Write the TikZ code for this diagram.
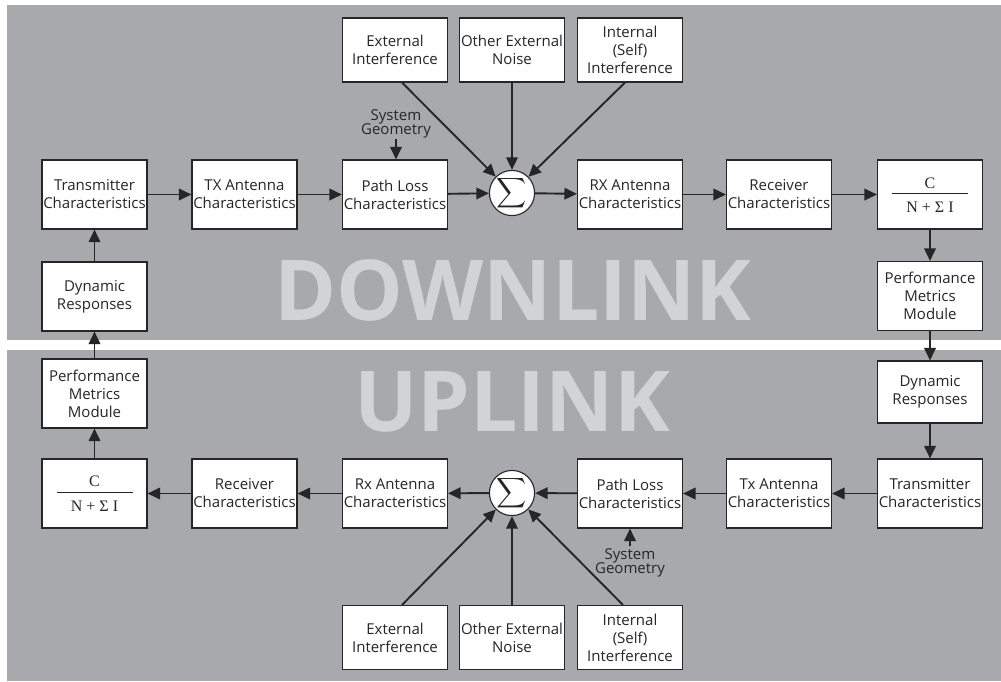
\documentclass[tikz,border=0pt]{standalone}
\usepackage{graphicx}
\usepackage{fontspec}
\setmainfont{Open Sans}
\newfontfamily\seriffont{Liberation Serif}
\usetikzlibrary{arrows.meta,calc}
\definecolor{panel}{HTML}{A7A9AC}
\definecolor{ghost}{HTML}{D1D3D4}
\definecolor{ink}{HTML}{262626}
\newcommand{\bigsum}{\resizebox{!}{22pt}{$\displaystyle\sum$}}
\begin{document}
\begin{tikzpicture}[x=1pt,y=-1pt,
  block/.style={draw=ink, line width=1.1pt, fill=white, text=ink, align=center,
    minimum width=105pt, minimum height=69pt, inner sep=1pt,
    font=\fontsize{15}{18}\selectfont},
  src/.style={block, minimum height=64pt},
  sumnode/.style={circle, draw=ink, line width=1.1pt, fill=white,
    minimum size=42pt, inner sep=0pt, text=ink},
  flow/.style={draw=ink, line width=1.9pt, -{Triangle[length=12.5pt,width=11.5pt]}},
  geolabel/.style={text=ink, align=center, inner sep=0pt,
    font=\fontsize{15}{14.5}\selectfont},
  fracpart/.style={text=ink, inner sep=0pt, font=\seriffont\fontsize{16}{16}\selectfont},
  banner/.style={text=ghost, inner sep=0pt, font=\fontsize{84}{84}\selectfont\bfseries}
]
\useasboundingbox (0,0) rectangle (1001,681);
\fill[white] (0,0) rectangle (1001,681);
\fill[panel] (7,5) rectangle (1001,340);
\fill[panel] (7,350) rectangle (1001,681);

% background titles
\node[banner] (dlTitle) at (513,290) {DOWNLINK};
\node[banner] (ulTitle) at (512,402) {UPLINK};

% ---------- downlink chain ----------
\node[block] (dTx)  at (94.5,194.5) {Transmitter\\Characteristics};
\node[block] (dTxA) at (244.5,194.5) {TX Antenna\\Characteristics};
\node[block] (dPL)  at (395,194.5) {Path Loss\\Characteristics};
\node[sumnode] (dSum) at (512,193) {\bigsum};
\node[block] (dRxA) at (630,194.5) {RX Antenna\\Characteristics};
\node[block] (dRx)  at (779,194.5) {Receiver\\Characteristics};
\node[block] (dCN)  at (930,194.5) {};
\node[fracpart] (dC) at ($(dCN.center)+(0,-11)$) {C};
\node[fracpart] (dNI) at ($(dCN.center)+(0,12.5)$) {N + Σ I};
\draw[ink, line width=0.8pt] ($(dCN.center)+(-38,-1.5)$) -- ($(dCN.center)+(38,-1.5)$);
\node[block] (dPM)  at (930,296) {Performance\\Metrics\\Module};
\node[block] (dDR)  at (94.5,296.5) {Dynamic\\Responses};

\node[src] (dExt)   at (395,50) {External\\Interference};
\node[src] (dNoise) at (512,50) {Other External\\Noise};
\node[src] (dSelf)  at (630,50) {Internal\\(Self)\\Interference};
\node[geolabel] (dGeo) at (396,124) {System\\Geometry};

\draw[flow] (dTx) -- (dTxA);
\draw[flow] (dTxA) -- (dPL);
\draw[flow] (dPL) -- (dSum);
\draw[flow] (dSum) -- (dRxA);
\draw[flow] (dRxA) -- (dRx);
\draw[flow] (dRx) -- (dCN);
\draw[flow] ([xshift=7pt]dExt.south) -- (dSum);
\draw[flow] (dNoise) -- (dSum);
\draw[flow] ([xshift=-5pt]dSelf.south) -- (dSum);
\draw[flow] (dGeo.south) -- (dGeo.south |- dPL.north);

% ---------- uplink chain ----------
\node[block, minimum height=62pt] (uDR) at (930,392) {Dynamic\\Responses};
\node[block] (uTx)  at (930,493.5) {Transmitter\\Characteristics};
\node[block] (uTxA) at (779,493.5) {Tx Antenna\\Characteristics};
\node[block] (uPL)  at (630,493.5) {Path Loss\\Characteristics};
\node[sumnode] (uSum) at (512,493) {\bigsum};
\node[block] (uRxA) at (395,493.5) {Rx Antenna\\Characteristics};
\node[block] (uRx)  at (244.5,493.5) {Receiver\\Characteristics};
\node[block] (uCN)  at (94.5,493.5) {};
\node[fracpart] (uC) at ($(uCN.center)+(0,-12)$) {C};
\node[fracpart] (uNI) at ($(uCN.center)+(0,13)$) {N + Σ I};
\draw[ink, line width=0.8pt] ($(uCN.center)+(-38,-1.5)$) -- ($(uCN.center)+(38,-1.5)$);
\node[block] (uPM)  at (94.5,393.5) {Performance\\Metrics\\Module};

\node[src] (uExt)   at (395,637.5) {External\\Interference};
\node[src] (uNoise) at (512,637.5) {Other External\\Noise};
\node[src] (uSelf)  at (630,637.5) {Internal\\(Self)\\Interference};
\node[geolabel] (uGeo) at (630,563) {System\\Geometry};

\draw[flow] (uTx) -- (uTxA);
\draw[flow] (uTxA) -- (uPL);
\draw[flow] (uPL) -- (uSum);
\draw[flow] (uSum) -- (uRxA);
\draw[flow] (uRxA) -- (uRx);
\draw[flow] (uRx) -- (uCN);
\draw[flow] ([xshift=7pt]uExt.north) -- (uSum);
\draw[flow] (uNoise) -- (uSum);
\draw[flow] ([xshift=-7pt]uSelf.north) -- (uSum);
\draw[flow] ([yshift=2pt]uGeo.north) -- (uGeo.north |- uPL.south);

% ---------- loop between the two links ----------
\draw[flow] (dCN) -- (dPM);
\draw[flow] (dPM) -- (uDR);
\draw[flow] (uDR) -- (uTx);
\draw[flow] (uCN) -- (uPM);
\draw[flow] (uPM) -- (dDR);
\draw[flow] (dDR) -- (dTx);
\end{tikzpicture}
\end{document}
